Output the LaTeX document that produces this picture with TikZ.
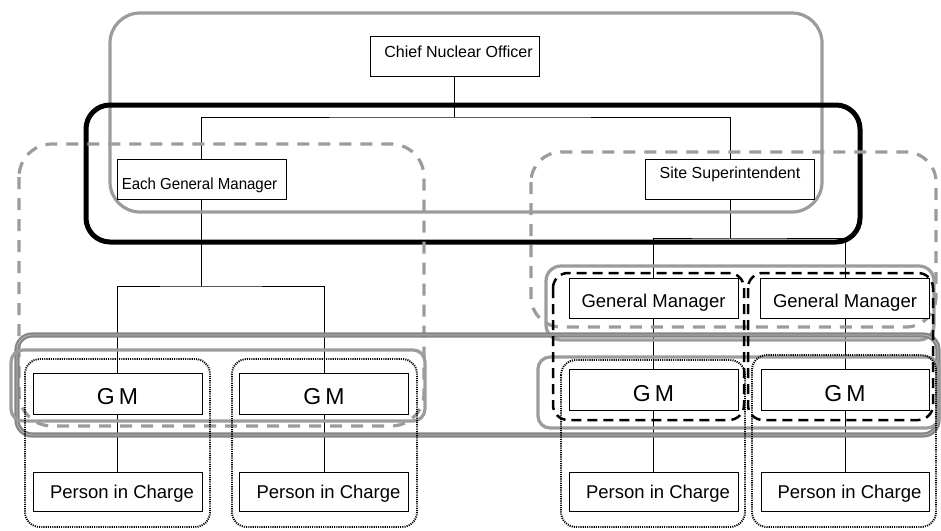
\documentclass[tikz,border=0pt]{standalone}
\usepackage{fontspec}
\setmainfont{Liberation Sans}
\pgfdeclarelayer{bg}
\pgfdeclarelayer{mid}
\pgfsetlayers{bg,mid,main}
\definecolor{gline}{HTML}{9C9C9C}
\definecolor{gdark}{HTML}{858585}
\definecolor{glight}{HTML}{B8B8B8}
\begin{document}
\begin{tikzpicture}[x=1pt,y=-1pt,
  box/.style={draw=black, line width=0.8pt, fill=white, inner sep=0pt, text depth=0pt},
  small/.style={box, minimum width=169pt, minimum height=40pt, font=\fontsize{16}{18}\selectfont, text height=11.5pt},
  mid/.style={box, minimum width=169pt, minimum height=40pt, font=\fontsize{18.5}{21}\selectfont, text height=13.2pt},
  gm/.style={box, minimum width=169pt, minimum height=41pt, font=\fontsize{23}{26}\selectfont, text height=16.5pt},
  conn/.style={draw=black, line width=0.8pt},
  graysolid/.style={draw=gline, line width=3.2pt},
  grayband/.style={draw=gdark, line width=2.2pt, double=glight, double distance=0.8pt},
  graydash/.style={draw=gline, line width=3.2pt, dash pattern=on 12pt off 9pt},
  blackthick/.style={draw=black, line width=5pt},
  blackdash/.style={draw=black, line width=2.5pt, dash pattern=on 10pt off 6pt},
  blackdot/.style={draw=black, line width=1.9pt, dash pattern=on 1.1pt off 1.1pt}
]
\useasboundingbox (0,0) rectangle (941,530);

% boxes
\node[small] (cno) at (454.5,56) {\raisebox{4pt}{\hspace*{8pt}Chief Nuclear Officer}};
\node[small] (egm) at (201.5,179) {\raisebox{-5pt}{\scalebox{0.94}[1]{Each General Manager}\hspace*{4pt}}};
\node[small] (ss) at (730,179) {\raisebox{6pt}{Site Superintendent}};

\node[mid] (gen1) at (653.5,298) {\raisebox{-3pt}{General Manager}};
\node[mid] (gen2) at (845,298) {\raisebox{-3pt}{General Manager}};

\node[gm] (gml1) at (117.5,393.5) {\raisebox{-3pt}{G\kern4pt M}};
\node[gm] (gml2) at (324,393.5) {\raisebox{-3pt}{G\kern4pt M}};
\node[gm] (gmr1) at (653.5,390) {\raisebox{-3pt}{G\kern4pt M}};
\node[gm, minimum width=168pt] (gmr2) at (845,390) {\raisebox{-3pt}{G\kern4pt M}};

\node[mid, minimum height=39pt] (pic1) at (117.5,491.5) {\hspace*{9pt}Person in Charge};
\node[mid, minimum height=39pt] (pic2) at (324,491.5) {\hspace*{9pt}Person in Charge};
\node[mid, minimum height=39pt] (pic3) at (653.5,491.5) {\hspace*{9pt}Person in Charge};
\node[mid, minimum height=39pt, minimum width=168pt] (pic4) at (845,491.5) {\hspace*{9pt}Person in Charge};

% connectors
\begin{pgfonlayer}{bg}
\coordinate (j1) at (454.5,117);
\coordinate (j2) at (201.5,286);
\coordinate (j3) at (730,238);
\draw[conn] (cno.south) -- (j1);
\draw[conn] (egm.north) |- (j1) -| (ss.north);
\draw[conn] (egm.south) -- (j2);
\draw[conn] (gml1.north) |- (j2) -| (gml2.north);
\draw[conn] (ss.south) -- (j3);
\draw[conn] (gen1.north) |- (j3) -| (gen2.north);
\draw[conn] (gen1.south) -- (gmr1.north);
\draw[conn] (gen2.south) -- (gmr2.north);
\draw[conn] (gml1.south) -- (pic1.north);
\draw[conn] (gml2.south) -- (pic2.north);
\draw[conn] (gmr1.south) -- (pic3.north);
\draw[conn] (gmr2.south) -- (pic4.north);
\end{pgfonlayer}

% group outlines
\begin{pgfonlayer}{mid}
\draw[graysolid, rounded corners=30pt] (110,13) rectangle (822,212);
\draw[blackthick, rounded corners=24pt] (86,105) rectangle (860,242);
\draw[graydash, rounded corners=33pt] (19,144) rectangle (424,426);
\draw[graydash, rounded corners=30pt] (531,152) rectangle (936,327);
\draw[graysolid, rounded corners=15pt] (546,266) rectangle (934,340);
\draw[grayband, rounded corners=15pt] (17,335) rectangle (938,435);
\draw[graysolid, rounded corners=12pt] (11,350) rectangle (425,421);
\draw[graysolid, rounded corners=12pt] (538,357) rectangle (939,428);
\draw[blackdash, rounded corners=15pt] (553,273) rectangle (744,420);
\draw[blackdash, rounded corners=15pt] (748,273) rectangle (933,420);
\draw[blackdot, rounded corners=15pt] (25,359) rectangle (210,527);
\draw[blackdot, rounded corners=15pt] (232,359) rectangle (417,527);
\draw[blackdot, rounded corners=15pt] (561,360) rectangle (745,527);
\draw[blackdot, rounded corners=15pt] (752,355) rectangle (936,527);
\end{pgfonlayer}
\end{tikzpicture}
\end{document}
